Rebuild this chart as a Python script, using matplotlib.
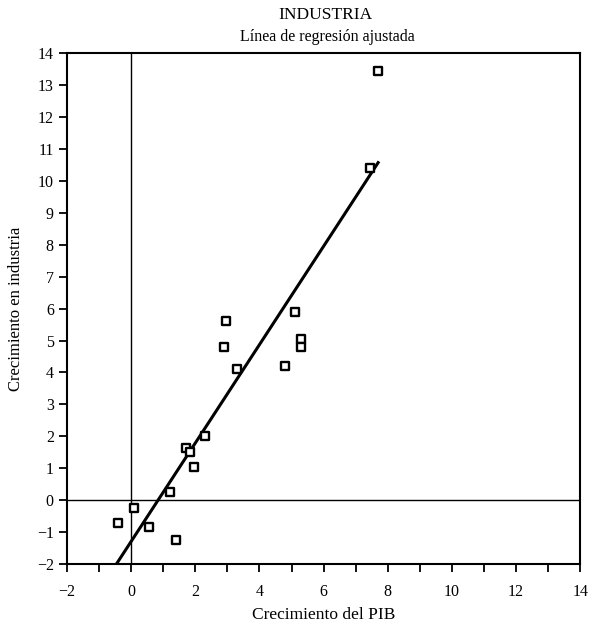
import numpy as np
import matplotlib.pyplot as plt
from matplotlib.ticker import MultipleLocator

plt.rcParams['font.family'] = ['Liberation Serif', 'DejaVu Serif']

# Crecimiento del PIB vs crecimiento en industria
pib = [7.7, 7.45, 5.1, 2.95, 2.9, 5.3, 5.3, 4.8, 3.3, 2.3, 1.7, 1.85, 1.95,
       1.2, 0.1, -0.4, 0.55, 1.4]
industria = [13.45, 10.4, 5.9, 5.6, 4.8, 5.05, 4.8, 4.2, 4.1, 2.0, 1.65, 1.5,
             1.05, 0.27, -0.25, -0.7, -0.85, -1.25]

# recta de regresion ajustada
intercepto = -1.29
pendiente = 1.54
recta_x = np.array([-0.46, 7.7])

fig = plt.figure(figsize=(5.92, 6.31), dpi=100)
ax = fig.add_axes([0.1132, 0.106, 0.8668, 0.81])

ax.axhline(0, color='black', lw=1.0, zorder=1)
ax.axvline(0, color='black', lw=1.0, zorder=1)
ax.plot(recta_x, intercepto + pendiente * recta_x, color='black', lw=2.2, zorder=2)
ax.scatter(pib, industria, marker='s', s=40, facecolors='white',
           edgecolors='black', linewidths=1.7, zorder=3)

ax.set_xlim(-2, 14)
ax.set_ylim(-2, 14)
ax.xaxis.set_major_locator(MultipleLocator(2))
ax.xaxis.set_minor_locator(MultipleLocator(1))
ax.yaxis.set_major_locator(MultipleLocator(1))
ax.tick_params(which='both', direction='out', width=1.3, labelsize=11.5, length=6)
ax.tick_params(axis='x', pad=8)
for s in ax.spines.values():
    s.set_linewidth(1.5)

ax.set_xlabel('Crecimiento del PIB', fontsize=12.5, labelpad=5)
ax.set_ylabel('Crecimiento en industria', fontsize=12, labelpad=9)
fig.text(0.55, 0.976, 'INDUSTRIA', ha='center', va='center', fontsize=12.5)
fig.text(0.553, 0.941, 'Línea de regresión ajustada', ha='center', va='center', fontsize=11.5)

fig.savefig('out.png', dpi=100)
